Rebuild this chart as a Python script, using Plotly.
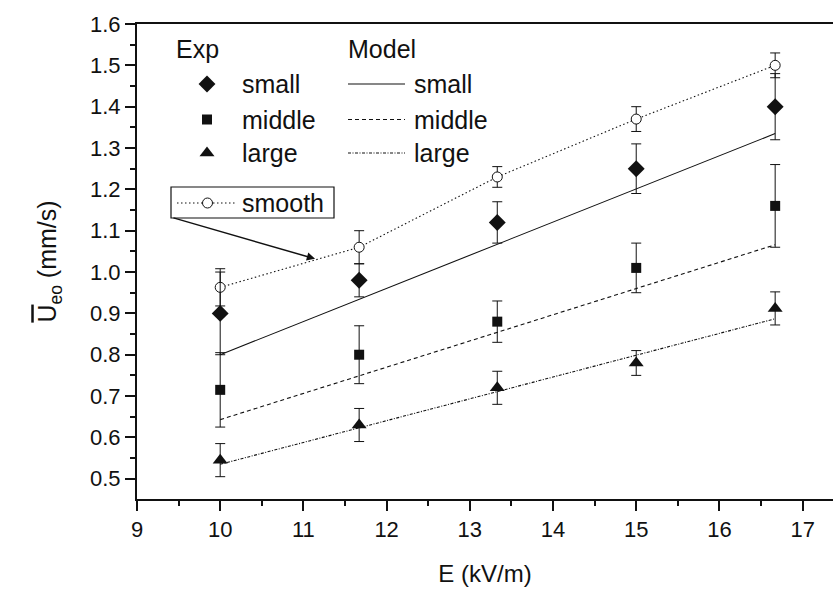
import plotly.graph_objects as go

# ---- data ----
E = [10, 11.67, 13.33, 15, 16.67]
exp_small = [0.90, 0.98, 1.12, 1.25, 1.40]
err_small = [0.10, 0.04, 0.05, 0.06, 0.08]
exp_middle = [0.715, 0.80, 0.88, 1.01, 1.16]
err_middle = [0.09, 0.07, 0.05, 0.06, 0.10]
exp_large = [0.545, 0.63, 0.72, 0.78, 0.912]
err_large = [0.04, 0.04, 0.04, 0.03, 0.04]
exp_smooth = [0.963, 1.06, 1.23, 1.37, 1.50]
err_smooth = [0.045, 0.04, 0.025, 0.03, 0.03]

E_model = [10, 16.67]
model_small = [0.80, 1.335]
model_middle = [0.643, 1.066]
model_large = [0.535, 0.887]

x_ticks = [9, 10, 11, 12, 13, 14, 15, 16, 17]
y_ticks = [0.5, 0.6, 0.7, 0.8, 0.9, 1.0, 1.1, 1.2, 1.3, 1.4, 1.5, 1.6]

FONT = "Liberation Sans, Arial, Helvetica, sans-serif"
INK = "#111111"
W, H = 833, 591
L, R, T, B = 137, 0, 24, 92

fig = go.Figure()

# model lines
fig.add_trace(go.Scatter(x=E_model, y=model_small, mode="lines",
                         line=dict(color=INK, width=1.1), showlegend=False))
fig.add_trace(go.Scatter(x=E_model, y=model_middle, mode="lines",
                         line=dict(color=INK, width=1.1, dash="4px,3px"), showlegend=False))
fig.add_trace(go.Scatter(x=E_model, y=model_large, mode="lines",
                         line=dict(color=INK, width=1.1, dash="3px,1.5px,1px,1.5px"), showlegend=False))

# smooth
fig.add_trace(go.Scatter(x=E, y=exp_smooth, mode="lines+markers",
                         line=dict(color=INK, width=1.1, dash="1.5px,2.5px"),
                         marker=dict(symbol="circle", size=10, color="white",
                                     line=dict(color=INK, width=1)),
                         error_y=dict(type="data", array=err_smooth, color=INK, thickness=1, width=5),
                         showlegend=False))

# experimental points
MARKS = [("diamond", 13), ("square", 10), ("triangle-up", 13)]
for vals, errs, (sym, sz) in zip([exp_small, exp_middle, exp_large],
                                 [err_small, err_middle, err_large], MARKS):
    fig.add_trace(go.Scatter(x=E, y=vals, mode="markers",
                             marker=dict(symbol=sym, size=sz, color=INK, line=dict(width=0)),
                             error_y=dict(type="data", array=errs, color=INK, thickness=1, width=5),
                             showlegend=False))

# ---- hand-made legend on an overlay paper-like axis ----
leg_x = lambda px: (px - L) / (W - L - R)
leg_y = lambda py: (H - B - py) / (H - T - B)

rows_y = [84, 119.5, 153]
labels = ["small", "middle", "large"]
dashes = ["solid", "4px,3px", "3px,1.5px,1px,1.5px"]

for (sym, sz), ry in zip(MARKS, rows_y):
    fig.add_trace(go.Scatter(x=[leg_x(207)], y=[leg_y(ry)], mode="markers", xaxis="x2", yaxis="y2",
                             marker=dict(symbol=sym, size=sz, color=INK, line=dict(width=0)),
                             showlegend=False))
for d, ry in zip(dashes, rows_y):
    fig.add_trace(go.Scatter(x=[leg_x(348), leg_x(405)], y=[leg_y(ry), leg_y(ry)], mode="lines",
                             xaxis="x2", yaxis="y2", line=dict(color=INK, width=1.1, dash=d),
                             showlegend=False))
# smooth legend sample
fig.add_trace(go.Scatter(x=[leg_x(177), leg_x(237)], y=[leg_y(203), leg_y(203)], mode="lines",
                         xaxis="x2", yaxis="y2", line=dict(color=INK, width=1.1, dash="1.5px,2.5px"),
                         showlegend=False))
fig.add_trace(go.Scatter(x=[leg_x(207.5)], y=[leg_y(203)], mode="markers", xaxis="x2", yaxis="y2",
                         marker=dict(symbol="circle", size=10, color="white", line=dict(color=INK, width=1)),
                         showlegend=False))

annotations = []
def txt(px, py, s, size=25):
    annotations.append(dict(x=leg_x(px), y=leg_y(py), xref="paper", yref="paper", text=s,
                            showarrow=False, xanchor="left", yanchor="middle",
                            xshift=-2, font=dict(family=FONT, size=size, color=INK)))

txt(176, 49, "Exp")
txt(348, 49, "Model")
for lab, ry in zip(labels, rows_y):
    txt(242, ry, lab)
    txt(414, ry, lab)
txt(242, 203, "smooth")

# arrow from legend box to smooth curve
annotations.append(dict(x=11.14, y=1.032, ax=9.42, ay=1.132, xref="x", yref="y",
                        axref="x", ayref="y", text="", showarrow=True, arrowhead=2,
                        arrowsize=1.1, arrowwidth=1.5, arrowcolor=INK, standoff=0, startstandoff=0))

shapes = [dict(type="rect", xref="paper", yref="paper",
               x0=leg_x(171), x1=leg_x(334), y0=leg_y(218), y1=leg_y(187),
               line=dict(color=INK, width=1.2), fillcolor="rgba(0,0,0,0)")]

fig.update_layout(
    width=W, height=H,
    margin=dict(l=L, r=R, t=T, b=B, autoexpand=False),
    paper_bgcolor="white", plot_bgcolor="white",
    font=dict(family=FONT, size=22, color=INK),
    showlegend=False,
    annotations=annotations,
    shapes=shapes,
    xaxis=dict(range=[9, 17.365], tickvals=x_ticks, ticktext=[str(v) for v in x_ticks],
               ticks="outside", ticklen=10, tickwidth=1.5, tickcolor=INK,
               minor=dict(dtick=0.5, ticks="outside", ticklen=5, tickwidth=1.5, tickcolor=INK),
               showline=True, linewidth=2, linecolor=INK, mirror=True,
               showgrid=False, zeroline=False, automargin=False,
               tickfont=dict(size=22, family=FONT, color=INK),
               title=dict(text="E (kV/m)", font=dict(size=24, family=FONT, color=INK), standoff=24)),
    yaxis=dict(range=[0.451, 1.6], tickvals=y_ticks, ticktext=[f"{v:.1f}" for v in y_ticks],
               ticks="outside", ticklen=10, tickwidth=1.5, tickcolor=INK,
               minor=dict(dtick=0.05, ticks="outside", ticklen=5, tickwidth=1.5, tickcolor=INK),
               showline=True, linewidth=2, linecolor=INK,
               showgrid=False, zeroline=False, automargin=False,
               tickfont=dict(size=22, family=FONT, color=INK),
               title=dict(text='<span style="text-decoration:overline">U</span><sub>eo</sub> (mm/s)',
                          font=dict(size=25, family=FONT, color=INK), standoff=26)),
    xaxis2=dict(range=[0, 1], overlaying="x", visible=False, fixedrange=True),
    yaxis2=dict(range=[0, 1], overlaying="y", visible=False, fixedrange=True),
)

fig.write_html("out.html", config={"displayModeBar": False},
               post_script="document.body.style.margin='0';")
